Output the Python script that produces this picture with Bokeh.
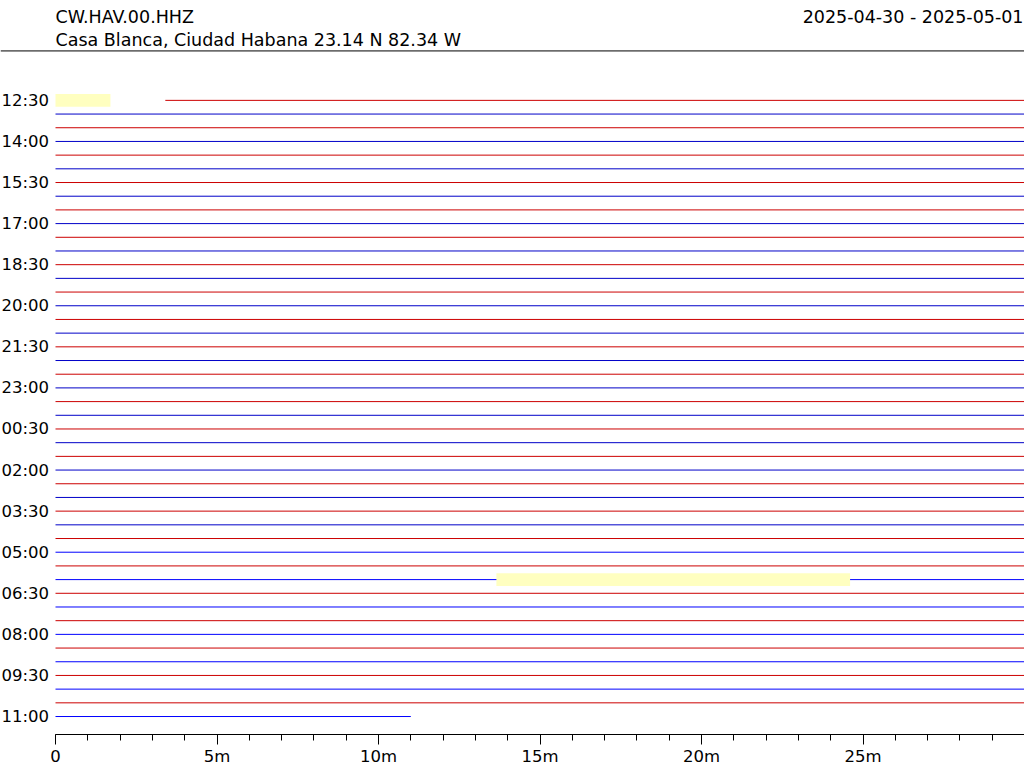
from bokeh.plotting import figure
from bokeh.models import Range1d, SingleIntervalTicker, ColumnDataSource, Span
from bokeh.core.properties import value
from bokeh.embed import file_html
from bokeh.resources import INLINE

# ---------------- data ----------------
station = "CW.HAV.00.HHZ"
location = "Casa Blanca, Ciudad Habana  23.14 N 82.34 W"
date_span = "2025-04-30 - 2025-05-01"

row_times = [
    "12:30", "13:00", "13:30", "14:00", "14:30", "15:00", "15:30", "16:00",
    "16:30", "17:00", "17:30", "18:00", "18:30", "19:00", "19:30", "20:00",
    "20:30", "21:00", "21:30", "22:00", "22:30", "23:00", "23:30", "00:00",
    "00:30", "01:00", "01:30", "02:00", "02:30", "03:00", "03:30", "04:00",
    "04:30", "05:00", "05:30", "06:00", "06:30", "07:00", "07:30", "08:00",
    "08:30", "09:00", "09:30", "10:00", "10:30", "11:00",
]
tick_labels = ["12:30", "14:00", "15:30", "17:00", "18:30", "20:00", "21:30", "23:00",
               "00:30", "02:00", "03:30", "05:00", "06:30", "08:00", "09:30", "11:00"]

# trace extent per row, minutes
trace_start = [3.4, 0, 0, 0, 0, 0, 0, 0, 0, 0, 0, 0, 0, 0, 0, 0,
               0, 0, 0, 0, 0, 0, 0, 0, 0, 0, 0, 0, 0, 0, 0, 0,
               0, 0, 0, 0, 0, 0, 0, 0, 0, 0, 0, 0, 0, 0]
trace_end = [30, 30, 30, 30, 30, 30, 30, 30, 30, 30, 30, 30, 30, 30, 30, 30,
             30, 30, 30, 30, 30, 30, 30, 30, 30, 30, 30, 30, 30, 30, 30, 30,
             30, 30, 30, 30, 30, 30, 30, 30, 30, 30, 30, 30, 30, 11.0]

# data gaps (row time, start min, end min)
gap_rows = ["12:30", "06:00"]
gap_start = [0.0, 13.65]
gap_end = [1.7, 24.6]

x_labels = ["0", "5m", "10m", "15m", "20m", "25m", ""]

RED = "#cc0000"
BLUE_DARK = "#0000c8"
BLUE = "#0000ff"
FONT = "DejaVu Sans"

# ---------------- geometry ----------------
W, H = 1024, 768
BOTTOM = 33                 # border for the x axis
FH = H - BOTTOM             # frame height (frame spans full width)
X0_PX, X1_PX = 55, 1024     # pixel of minute 0 and minute 30
ROW0_PX, ROWN_PX = 100, 717 # pixel of first and last row
n = len(row_times)

ppm = (X1_PX - X0_PX) / 30.0
x_start = -X0_PX / ppm
ppr = (ROWN_PX - ROW0_PX) / (n - 1)
y_top = ROW0_PX / ppr
y_bot = -(n - 1) - (FH - ROWN_PX) / ppr


def px_x(px):
    return x_start + px / ppm


def px_y(py):
    return y_top - py / ppr


p = figure(width=W, height=H, x_range=Range1d(x_start, 30), y_range=Range1d(y_bot, y_top),
           toolbar_location=None, output_backend="svg", y_axis_type=None,
           min_border_left=0, min_border_right=0, min_border_top=0, min_border_bottom=BOTTOM,
           outline_line_color=None)
p.xgrid.visible = False
p.ygrid.visible = False

# header
txt = dict(text_font=value(FONT), text_font_size="17.5px", text_baseline="alphabetic",
           text_color="black")
p.text(x=[px_x(X0_PX)], y=[px_y(17)], text=[station], text_align="left", **txt)
p.text(x=[px_x(X0_PX)], y=[px_y(40)], text=[location], text_align="left", **txt)
p.text(x=[px_x(1023)], y=[px_y(17)], text=[date_span], text_align="right", **txt)
p.add_layout(Span(location=px_y(50.5), dimension="width", line_color="black", line_width=1))

# traces
ys = [-i for i in range(n)]
colors = []
for i in range(n):
    if i % 2 == 0:
        colors.append(RED)
    else:
        colors.append(BLUE if i >= 33 else BLUE_DARK)

lines = ColumnDataSource(dict(x0=trace_start, x1=trace_end, y=ys, c=colors))
p.segment(x0="x0", x1="x1", y0="y", y1="y", line_color="c", line_width=1, source=lines)

gy = [-row_times.index(r) for r in gap_rows]
gaps = ColumnDataSource(dict(left=gap_start, right=gap_end,
                             top=[y + 0.46 for y in gy], bottom=[y - 0.46 for y in gy]))
p.quad(left="left", right="right", top="top", bottom="bottom", source=gaps,
       fill_color="#ffffc0", line_color=None)

# row time labels
tick_y = [-row_times.index(t) for t in tick_labels]
p.text(x=[px_x(48.5)] * len(tick_y), y=tick_y, text=tick_labels, text_align="right",
       text_baseline="middle", text_font=value(FONT), text_font_size="16.5px",
       text_color="black")

# x axis
ax = p.xaxis[0]
ax.bounds = (0, 30)
ax.ticker = SingleIntervalTicker(interval=5, num_minor_ticks=5)
ax.major_label_overrides = {i * 5: lab for i, lab in enumerate(x_labels)}
ax.axis_line_color = "black"
ax.major_tick_line_color = "black"
ax.minor_tick_line_color = "black"
ax.major_tick_out = 10
ax.major_tick_in = 0
ax.minor_tick_out = 6
ax.minor_tick_in = 0
ax.major_label_standoff = 2
ax.major_label_text_font = FONT
ax.major_label_text_font_size = "16.5px"
ax.major_label_text_color = "black"

open("out.html", "w").write(file_html(p, INLINE))
